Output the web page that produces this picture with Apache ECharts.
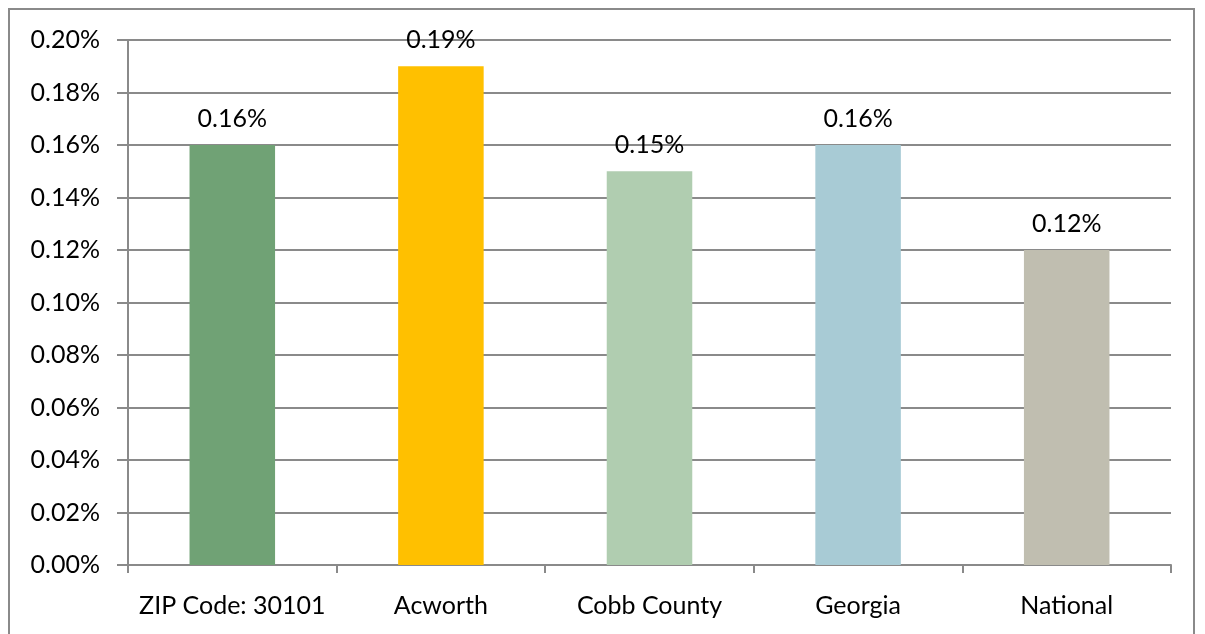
<!DOCTYPE html>
<html><head><meta charset="utf-8">
<script src="https://cdn.jsdelivr.net/npm/echarts@6/dist/echarts.min.js"></script>
<style>html,body{margin:0;padding:0;background:#fff}#c{width:1205px;height:634px}
#frame{position:absolute;left:8px;top:8px;width:1187px;height:640px;border:2px solid #8a8a8a;box-sizing:border-box;pointer-events:none}</style>
</head><body><div id="c"></div><div id="frame"></div>
<script>
const categories = ['ZIP Code: 30101', 'Acworth', 'Cobb County', 'Georgia', 'National'];
const values = [0.16, 0.19, 0.15, 0.16, 0.12];
const barColors = ['#70A275', '#FFC000', '#B0CDB0', '#A8CBD5', '#C0BEB0'];
const yTicks = { min: 0, max: 0.2, interval: 0.02 };

const chart = echarts.init(document.getElementById('c'), null, { renderer: 'canvas' });
const font = 'Lato, "Open Sans", sans-serif';
chart.setOption({
  animation: false,
  grid: { left: 128, right: 34, top: 40, bottom: 69, containLabel: false },
  xAxis: {
    type: 'category', data: categories,
    axisLine: { lineStyle: { color: '#8a8a8a', width: 2 } },
    axisTick: { show: true, interval: 0, length: 8, lineStyle: { color: '#8a8a8a', width: 2 } },
    axisLabel: { color: '#000', fontSize: 25, fontFamily: font, margin: 28, interval: 0, hideOverlap: false }
  },
  yAxis: {
    type: 'value', min: yTicks.min, max: yTicks.max, interval: yTicks.interval,
    axisLine: { show: true, lineStyle: { color: '#8a8a8a', width: 2 } },
    axisTick: { show: true, length: 11, lineStyle: { color: '#8a8a8a', width: 2 } },
    splitLine: { lineStyle: { color: '#8a8a8a', width: 2 } },
    axisLabel: { color: '#000', fontSize: 25, fontFamily: font, margin: 28,
      formatter: v => v.toFixed(2) + '%' }
  },
  series: [{
    type: 'bar', barWidth: '41%',
    data: values.map((v, i) => ({ value: v, itemStyle: { color: barColors[i] } })),
    label: { show: true, position: 'top', distance: 14, color: '#000', fontSize: 25, fontFamily: font,
      formatter: p => p.value.toFixed(2) + '%' }
  }]
});
</script></body></html>
